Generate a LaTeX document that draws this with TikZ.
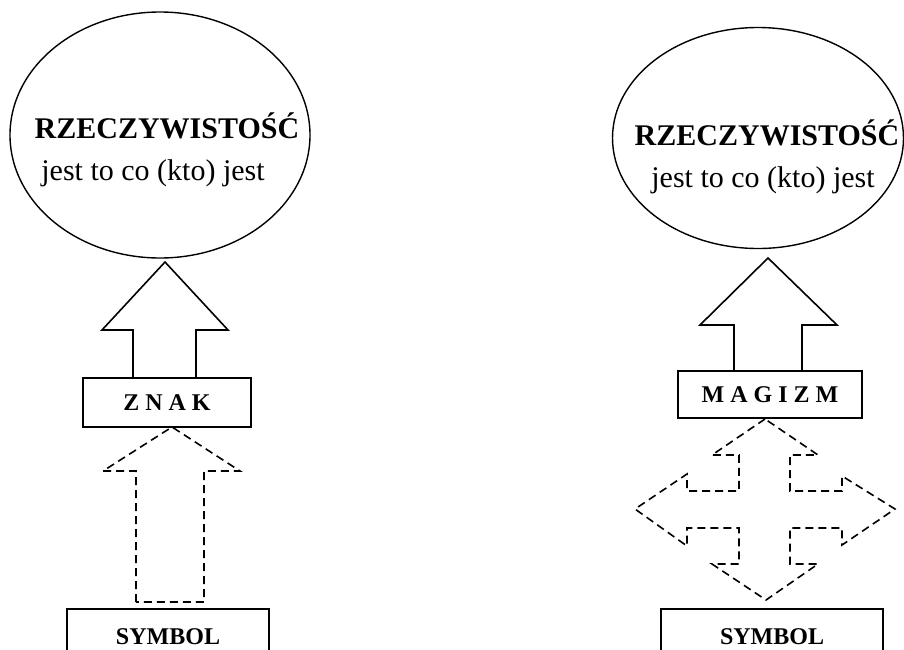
\documentclass[tikz,border=0pt]{standalone}
\usepackage{fontspec}
\setmainfont{Liberation Serif}
\usetikzlibrary{shapes.geometric}

\tikzset{
  oval/.style={draw, ellipse, line width=0.7pt, inner sep=0pt},
  termbox/.style={draw, rectangle, line width=0.8pt, inner sep=0pt, font=\fontsize{12}{14}\selectfont\bfseries},
  bigtitle/.style={anchor=base, inner sep=0pt, font=\fontsize{15}{18}\selectfont\bfseries},
  bigtext/.style={anchor=base, inner sep=0pt, font=\fontsize{15}{18}\selectfont},
  solidarrow/.style={draw, line width=0.8pt, line join=miter},
  dasharrow/.style={draw, line width=0.8pt, dash pattern=on 4pt off 2.5pt}
}

\begin{document}
\begin{tikzpicture}[x=0.5pt, y=-0.5pt]
    \useasboundingbox (0,0) rectangle (904,649);
    \clip (0,0) rectangle (904,649);

    % left: znak
    \node[oval, minimum width=150pt, minimum height=123pt] (realL) at (160,135) {};
    \node[bigtitle] (realLtitle) at (167,138) {RZECZYWISTOŚĆ};
    \node[bigtext] (realLtext) at (153,180) {jest to co (kto) jest};
    \node[termbox, minimum width=84pt, minimum height=24.5pt] (znak) at (167,402.5) {Z N A K};
    \node[termbox, minimum width=101pt, minimum height=27.5pt] (symbolL) at (168,636.5) {SYMBOL};

    \draw[solidarrow] (133,378) -- (133,330) -- (102,330) -- (165,262) -- (228,330) -- (196,330) -- (196,378);
    \draw[dasharrow] (136,602) -- (136,471) -- (103,471) -- (172,427) -- (240,471) -- (204,471) -- (204,602) -- cycle;

    % right: magizm
    \node[oval, minimum width=145.5pt, minimum height=110.5pt] (realR) at (758,138) {};
    \node[bigtitle] (realRtitle) at (767,145) {RZECZYWISTOŚĆ};
    \node[bigtext] (realRtext) at (763,187) {jest to co (kto) jest};
    \node[termbox, minimum width=92pt, minimum height=23.5pt] (magizm) at (770,394.5) {M A G I Z M};
    \node[termbox, minimum width=111pt, minimum height=27.5pt] (symbolR) at (772,636.5) {SYMBOL};

    \draw[solidarrow] (734,371) -- (734,325) -- (700,325) -- (768,258) -- (837,325) -- (802,325) -- (802,371);
    \draw[dasharrow] (765,419) -- (712,455) -- (739,455) -- (739,491) -- (687,491) -- (687,474)
        -- (635,509) -- (687,546) -- (687,528) -- (739,528) -- (739,564) -- (712,564)
        -- (766,600) -- (818,564) -- (790,564) -- (790,528) -- (842,528) -- (842,545)
        -- (895,509) -- (842,476) -- (842,491) -- (790,491) -- (790,455) -- (818,455) -- cycle;
\end{tikzpicture}
\end{document}
